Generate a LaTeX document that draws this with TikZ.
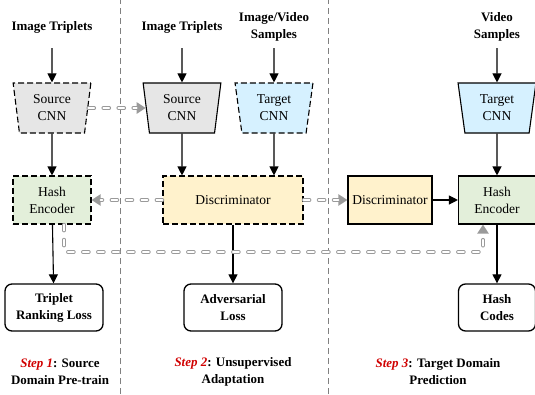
\documentclass[tikz,border=0pt]{standalone}
\usepackage{fontspec}
\setmainfont{LiberationSerif-Regular.ttf}[BoldFont=LiberationSerif-Bold.ttf,ItalicFont=LiberationSerif-Italic.ttf,BoldItalicFont=LiberationSerif-BoldItalic.ttf]
\usetikzlibrary{arrows.meta,shapes.geometric}
\definecolor{cnngray}{HTML}{E6E6E6}
\definecolor{cnnblue}{HTML}{D6F1FF}
\definecolor{hashgreen}{HTML}{E3EFDA}
\definecolor{discyellow}{HTML}{FFF2CC}
\definecolor{stepred}{HTML}{D00000}
\definecolor{linkgray}{HTML}{9A9A9A}

\begin{document}
\begin{tikzpicture}[x=1bp,y=1bp,
  font=\fontsize{13.6}{17}\selectfont,
  title/.style={font=\fontsize{13}{17}\selectfont\bfseries,align=center,minimum height=42bp,inner sep=0pt},
  cnn/.style={trapezium,trapezium stretches=true,shape border rotate=180,trapezium angle=82,
    minimum width=78bp,minimum height=50bp,align=center,draw,line width=1.1bp,inner sep=0pt},
  block/.style={rectangle,draw,line width=1.1bp,minimum height=48bp,align=center,inner sep=0pt},
  loss/.style={rectangle,draw,rounded corners=7bp,line width=1.3bp,minimum width=98bp,minimum height=47bp,
    align=center,font=\fontsize{13}{17}\selectfont\bfseries,inner sep=0pt},
  frozen/.style={dash pattern=on 6bp off 3bp},
  steplabel/.style={align=center,font=\fontsize{13}{17}\selectfont\bfseries},
  arr/.style={-{Triangle[length=9bp,width=9bp]},line width=1.1bp},
  link/.style={draw=linkgray,line width=3.6bp,line cap=round,dash pattern=on 6bp off 9bp,
    -{Triangle[length=9bp,width=11bp,fill=linkgray]},
    postaction={draw=white,line width=1.8bp,shorten >=9bp,-}},
  sep/.style={draw=gray,line width=0.6bp,dash pattern=on 6bp off 4bp}]
\useasboundingbox (0,0) rectangle (535,394);
\draw[sep] (120,0) -- (120,394);
\draw[sep] (328,0) -- (328,394);
\node[title] (t1) at (52,367) {Image Triplets};
\node[title] (t2) at (182,367) {Image Triplets};
\node[title] (t3) at (274,367) {Image/Video\\Samples};
\node[title] (t4) at (497,367) {Video\\Samples};
\node[cnn,frozen,fill=cnngray] (scnn1) at (52,286) {Source\\CNN};
\node[cnn,fill=cnngray] (scnn2) at (182,286) {Source\\CNN};
\node[cnn,frozen,fill=cnnblue] (tcnn2) at (274,286) {Target\\CNN};
\node[cnn,fill=cnnblue] (tcnn3) at (497,286) {Target\\CNN};
\node[block,frozen,fill=hashgreen,minimum width=78bp] (hash1) at (52,194) {Hash\\Encoder};
\node[block,frozen,fill=discyellow,minimum width=140bp] (disc2) at (233,194) {Discriminator};
\node[block,fill=discyellow,minimum width=84bp] (disc3) at (390,194) {Discriminator};
\node[block,fill=hashgreen,minimum width=77bp] (hash3) at (497,194) {Hash\\Encoder};
\node[loss] (rank) at (54,86.5) {Triplet\\Ranking Loss};
\node[loss] (adv) at (233,86.5) {Adversarial\\Loss};
\node[loss,minimum width=77bp] (codes) at (497,86.5) {Hash\\Codes};
\node[steplabel] (s1) at (60,22) {\textcolor{stepred}{\textit{Step 1}}: Source\\Domain Pre-train};
\node[steplabel] (s2) at (233,22) {\textcolor{stepred}{\textit{Step 2}}: Unsupervised\\Adaptation};
\node[steplabel] (s3) at (438,22) {\textcolor{stepred}{\textit{Step 3}}: Target Domain\\Prediction};
\draw[arr] (t1) -- (scnn1);
\draw[arr] (t2) -- (scnn2);
\draw[arr] (t3) -- (tcnn2);
\draw[arr] (t4) -- (tcnn3);
\draw[arr] (scnn1) -- (hash1);
\draw[arr] (hash1) -- (rank);
\draw[arr] (scnn2) -- (scnn2 |- disc2.north);
\draw[arr] (tcnn2) -- (tcnn2 |- disc2.north);
\draw[arr] (disc2) -- (adv);
\draw[arr] (disc3) -- (hash3);
\draw[arr] (tcnn3) -- (hash3);
\draw[arr] (hash3) -- (codes);
\draw[link] (scnn1.east) -- (scnn2.west);
\draw[link] (disc2.west) -- (hash1.east);
\draw[link] (disc2.east) -- (disc3.west);
\draw[link,rounded corners=3bp] ([xshift=12bp]hash1.south) -- ++(0,-27.5) -| ([xshift=-14bp]hash3.south);
\end{tikzpicture}
\end{document}
